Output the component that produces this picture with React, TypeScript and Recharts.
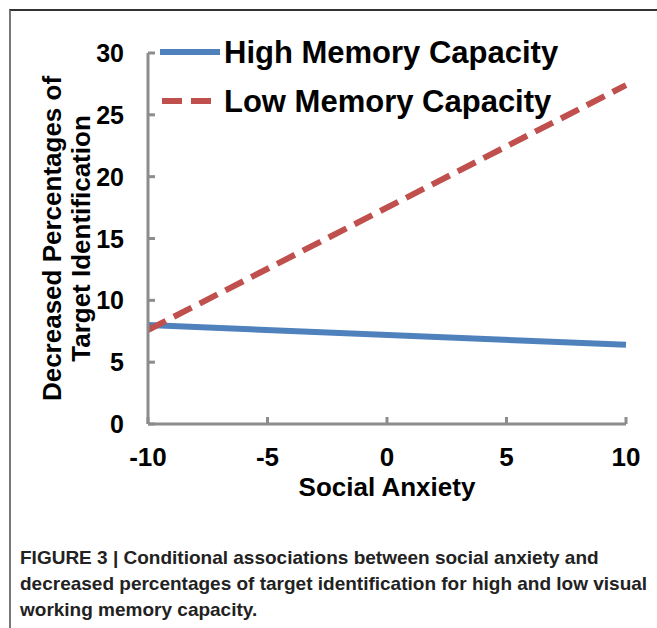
import React from "react"
import { LineChart, Line, XAxis, YAxis, Legend } from "recharts"

const anxiety = [-10, 10]
const highMemory = [8.0, 6.4]
const lowMemory = [7.6, 27.4]
const xTicks = [-10, -5, 0, 5, 10]
const yTicks = [0, 5, 10, 15, 20, 25, 30]
const seriesNames = ["High Memory Capacity", "Low Memory Capacity"]
const xTitle = "Social Anxiety"
const yTitle = ["Decreased Percentages of", "Target Identification"]
const captionLines = [
  "FIGURE 3 | Conditional associations between social anxiety and",
  "decreased percentages of target identification for high and low visual",
  "working memory capacity.",
]

const data = anxiety.map((x, i) => ({ x, high: highMemory[i], low: lowMemory[i] }))

const BLUE = "#4F81BD"
const RED = "#C0504D"
const AXIS = "#8C8C8C"
const FONT = "'Liberation Sans', Arial, sans-serif"

const YTick = (p: any) => (
  <g>
    <line x1={p.x} x2={p.x + 7} y1={p.y} y2={p.y} stroke={AXIS} strokeWidth={3} />
    <text x={p.x - 24} y={p.y + 9} textAnchor="end" fontSize={25} fontWeight="bold" fontFamily={FONT} fill="#000">
      {p.payload.value}
    </text>
  </g>
)

const XTick = (p: any) => (
  <g>
    <line x1={p.x} x2={p.x} y1={p.y} y2={p.y - 7} stroke={AXIS} strokeWidth={3} />
    <text x={p.x} y={p.y + 42} textAnchor="middle" fontSize={26} fontWeight="bold" fontFamily={FONT} fill="#000">
      {p.payload.value}
    </text>
  </g>
)

const YTitle = ({ viewBox }: any) => {
  const cy = viewBox.y + viewBox.height / 2
  return (
    <g>
      {yTitle.map((t, i) => (
        <text
          key={t}
          x={0}
          y={0}
          transform={`translate(${61 + i * 29}, ${cy}) rotate(-90)`}
          textAnchor="middle"
          fontSize={26}
          fontWeight="bold"
          fontFamily={FONT}
          fill="#000"
        >
          {t}
        </text>
      ))}
    </g>
  )
}

const LegendBox = () => (
  <svg width={430} height={100}>
    <line x1={2} x2={62} y1={19} y2={19} stroke={BLUE} strokeWidth={6} />
    <text x={66} y={30} fontSize={31} fontWeight="bold" fontFamily={FONT} fill="#000">
      {seriesNames[0]}
    </text>
    <line x1={4} x2={60} y1={68} y2={68} stroke={RED} strokeWidth={6} strokeDasharray="20 9" />
    <text x={66} y={79} fontSize={31} fontWeight="bold" fontFamily={FONT} fill="#000">
      {seriesNames[1]}
    </text>
  </svg>
)

export default function App() {
  return (
    <div style={{ position: "absolute", left: 0, top: 0, width: 657, height: 628, overflow: "hidden", background: "#fff" }}>
      <div
        style={{
          position: "absolute",
          left: 9,
          top: 9,
          width: 700,
          height: 700,
          borderTop: "2px solid #333",
          borderLeft: "2px solid #777",
        }}
      />
      <div style={{ position: "absolute", left: 0, top: 0 }}>
        <LineChart width={657} height={540} data={data} margin={{ top: 53, right: 31, bottom: 0, left: 0 }}>
          <XAxis
            type="number"
            dataKey="x"
            domain={[-10, 10]}
            ticks={xTicks}
            height={116}
            stroke={AXIS}
            strokeWidth={3}
            tickSize={0}
            tickMargin={0}
            tickLine={false}
            tick={XTick}
            label={{ value: xTitle, position: "insideTop", offset: 54, fontSize: 26, fontWeight: "bold", fontFamily: FONT, fill: "#000" }}
          />
          <YAxis
            type="number"
            domain={[0, 30]}
            ticks={yTicks}
            width={148}
            stroke={AXIS}
            strokeWidth={3}
            tickSize={0}
            tickMargin={0}
            tickLine={false}
            tick={YTick}
            label={<YTitle />}
          />
          <Legend
            layout="horizontal"
            verticalAlign="middle"
            align="center"
            content={<LegendBox />}
            wrapperStyle={{ left: 158, top: 33, width: 430, height: 100 }}
          />
          <Line dataKey="high" name={seriesNames[0]} stroke={BLUE} strokeWidth={6} dot={false} isAnimationActive={false} />
          <Line
            dataKey="low"
            name={seriesNames[1]}
            stroke={RED}
            strokeWidth={6}
            strokeDasharray="20 9"
            dot={false}
            isAnimationActive={false}
          />
        </LineChart>
      </div>
      <div
        style={{
          position: "absolute",
          left: 20,
          top: 545,
          width: 640,
          fontFamily: FONT,
          fontWeight: "bold",
          fontSize: 19,
          lineHeight: "26px",
          color: "#222",
        }}
      >
        {captionLines.map((l) => (
          <div key={l} style={{ whiteSpace: "nowrap" }}>{l}</div>
        ))}
      </div>
    </div>
  )
}
